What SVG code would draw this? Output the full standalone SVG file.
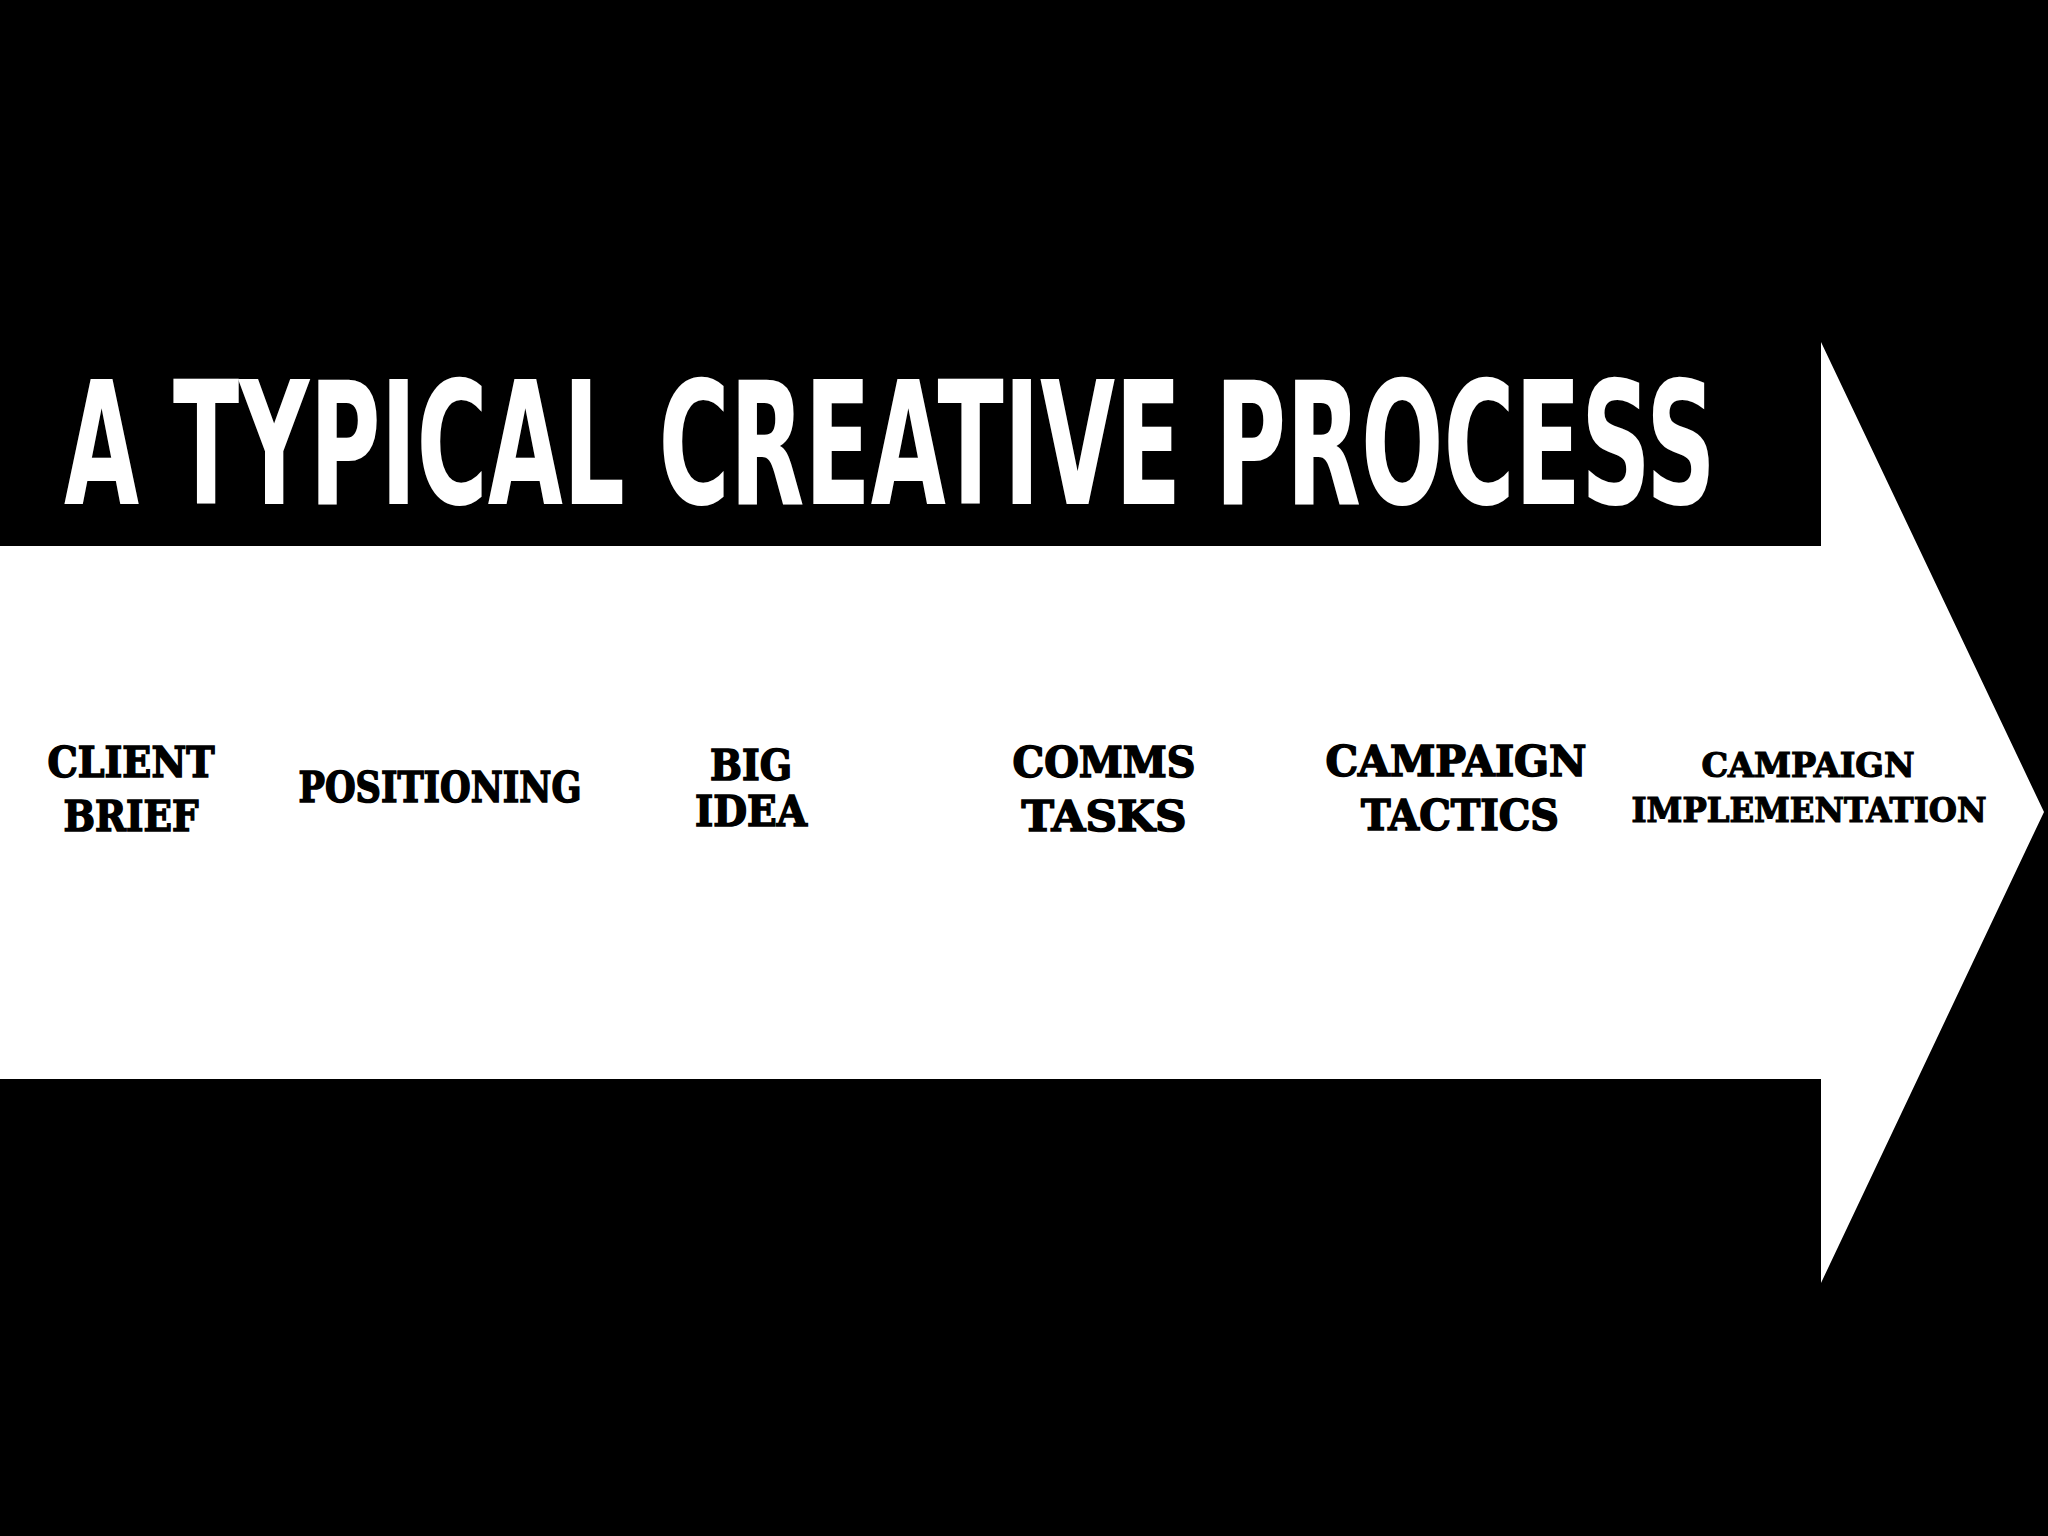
<svg xmlns="http://www.w3.org/2000/svg" width="2048" height="1536" viewBox="0 0 2048 1536">
  <style>
    .title { font-family: "Liberation Sans Narrow", "DejaVu Sans Condensed", "Liberation Sans", sans-serif; font-weight: bold; font-size: 172px; fill: #ffffff; }
    .lbl { font-family: "DejaVu Serif", "Liberation Serif", serif; font-weight: bold; font-size: 43px; fill: #000000; stroke: #000000; stroke-width: 1.6px; text-anchor: middle; }
    .lbl-s { font-size: 33px; stroke-width: 1.2px; }
  </style>
  <rect x="0" y="0" width="2048" height="1536" fill="#000000"/>
  <g id="process-arrow">
    <polygon points="0,546 1821,546 1821,342 2044,812 1821,1283 1821,1079 0,1079" fill="#ffffff"/>
  </g>
  <g id="title">
    <text class="title" x="64" y="504" textLength="1652" lengthAdjust="spacingAndGlyphs">A TYPICAL CREATIVE PROCESS</text>
  </g>
  <g id="connectors"></g>
  <g id="node-client-brief">
    <text class="lbl" x="131" y="777" textLength="167" lengthAdjust="spacingAndGlyphs">CLIENT</text>
    <text class="lbl" x="131" y="831" textLength="135" lengthAdjust="spacingAndGlyphs">BRIEF</text>
  </g>
  <g id="node-positioning">
    <text class="lbl" x="440" y="802" textLength="283" lengthAdjust="spacingAndGlyphs">POSITIONING</text>
  </g>
  <g id="node-big-idea">
    <text class="lbl" x="751" y="780" textLength="82" lengthAdjust="spacingAndGlyphs">BIG</text>
    <text class="lbl" x="751" y="826" textLength="112" lengthAdjust="spacingAndGlyphs">IDEA</text>
  </g>
  <g id="node-comms-tasks">
    <text class="lbl" x="1104" y="777" textLength="183" lengthAdjust="spacingAndGlyphs">COMMS</text>
    <text class="lbl" x="1104" y="831" textLength="165" lengthAdjust="spacingAndGlyphs">TASKS</text>
  </g>
  <g id="node-campaign-tactics">
    <text class="lbl" x="1456" y="776" textLength="261" lengthAdjust="spacingAndGlyphs">CAMPAIGN</text>
    <text class="lbl" x="1460" y="830" textLength="198" lengthAdjust="spacingAndGlyphs">TACTICS</text>
  </g>
  <g id="node-campaign-implementation">
    <text class="lbl lbl-s" x="1808" y="777" textLength="213" lengthAdjust="spacingAndGlyphs">CAMPAIGN</text>
    <text class="lbl lbl-s" x="1809" y="822" textLength="355" lengthAdjust="spacingAndGlyphs">IMPLEMENTATION</text>
  </g>
</svg>
